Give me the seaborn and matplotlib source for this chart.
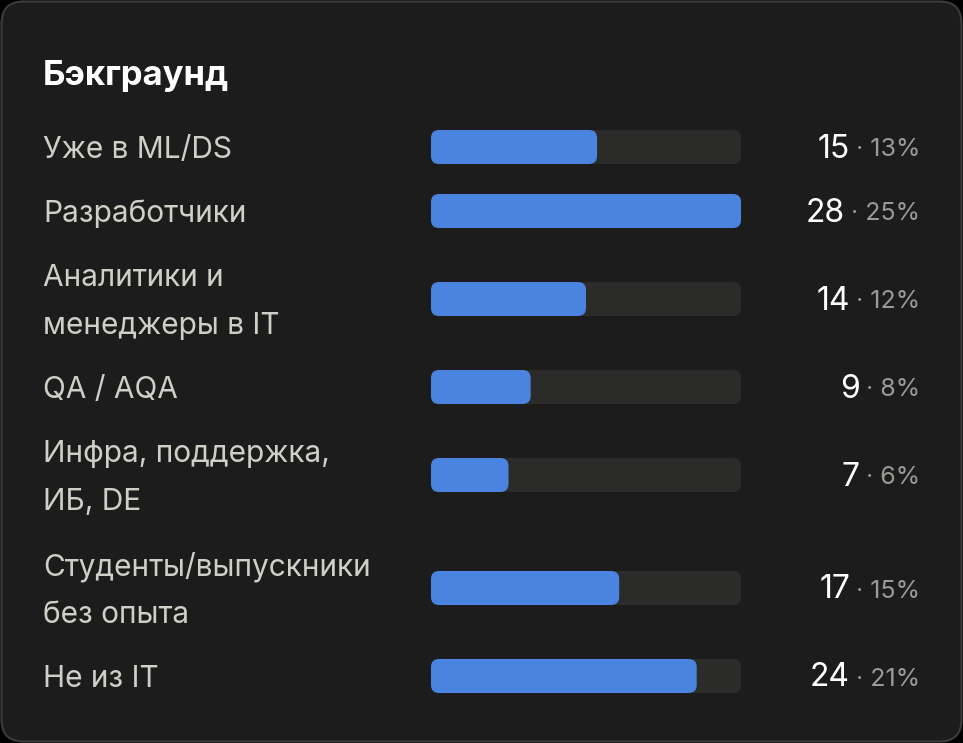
import matplotlib
matplotlib.use("Agg")
import matplotlib.pyplot as plt
import seaborn as sns
from matplotlib.patches import FancyBboxPatch

labels = [["Уже в ML/DS"], ["Разработчики"], ["Аналитики и", "менеджеры в IT"],
          ["QA / AQA"], ["Инфра, поддержка,", "ИБ, DE"],
          ["Студенты/выпускники", "без опыта"], ["Не из IT"]]
counts = [15, 28, 14, 9, 7, 17, 24]
pcts = ["13%", "25%", "12%", "8%", "6%", "15%", "21%"]
row_y = [147, 211, 299, 387, 475, 588, 676]

sns.set_style("dark")
plt.rcParams['font.family'] = ['Inter', 'DejaVu Sans']

W, H = 963, 743
fig = plt.figure(figsize=(W / 100, H / 100), dpi=100)
fig.patch.set_facecolor("black")

# background card in pixel coordinates
bg = fig.add_axes([0, 0, 1, 1])
bg.set_xlim(0, W)
bg.set_ylim(H, 0)
bg.axis("off")
bg.add_patch(FancyBboxPatch((1.5, 1.5), W - 3, H - 3, boxstyle="round,pad=0,rounding_size=22",
                            fc="#1c1c1c", ec="#3c3c3c", lw=1.5))

bg.text(43, 76, "Бэкграунд", color="white", fontsize=25, fontweight="bold", va="center", ha="left")

lab_fs = 21.5
for lab, y in zip(labels, row_y):
    if len(lab) == 1:
        bg.text(43, y + 3, lab[0], color="#cfcfc8", fontsize=lab_fs, va="center", ha="left")
    else:
        bg.text(43, y - 21, lab[0], color="#cfcfc8", fontsize=lab_fs, va="center", ha="left")
        bg.text(43, y + 27, lab[1], color="#cfcfc8", fontsize=lab_fs, va="center", ha="left")

# bar axes: x in counts, y in pixels
x0, x1 = 431, 741
ax = fig.add_axes([x0 / W, 0, (x1 - x0) / W, 1])
ax.set_xlim(0, max(counts))
ax.set_ylim(H, 0)
ax.axis("off")
ax.patch.set_alpha(0)
px = max(counts) / (x1 - x0)
bh = 34
r = 8
for c, y in zip(counts, row_y):
    for val, col in [(max(counts), "#2b2b29"), (c, "#4a84e0")]:
        ax.add_patch(FancyBboxPatch((0, y - bh / 2), val, bh,
                                    boxstyle=f"round,pad=0,rounding_size={r * px}",
                                    mutation_aspect=1 / px, fc=col, ec="none"))

fig.canvas.draw()
ren = fig.canvas.get_renderer()
inv = bg.transData.inverted()
for c, p, y in zip(counts, pcts, row_y):
    t = bg.text(920, y + 3, "· " + p, color="#9a9a96", fontsize=18, va="center", ha="right")
    bb = t.get_window_extent(renderer=ren)
    left = inv.transform((bb.x0, bb.y0))[0]
    bg.text(left - 6, y + 2, str(c), color="white", fontsize=23, va="center", ha="right")

fig.savefig("out.png", dpi=100, facecolor=fig.get_facecolor())
